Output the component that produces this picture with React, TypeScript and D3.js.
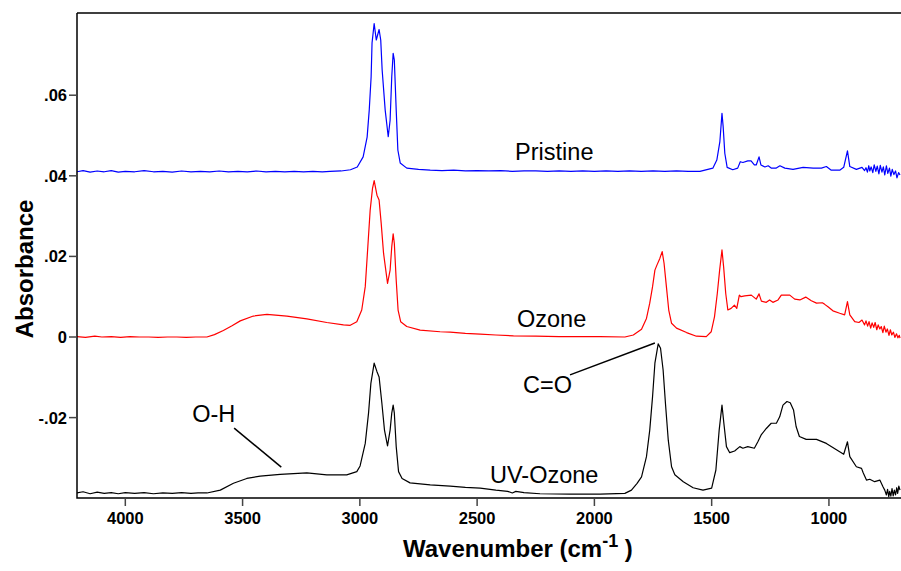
import React from "react";
import * as d3 from "d3";

type Pt = [number, number];

const pristine: Pt[] = [
  [4206,0.0410],[4180,0.0413],[4150,0.0409],[4120,0.0412],[4090,0.0410],[4060,0.0413],[4030,0.0409],[4000,0.0411],[3960,0.0410],[3920,0.0413],[3880,0.0410],[3840,0.0411],[3800,0.0409],[3760,0.0412],[3720,0.0410],[3680,0.0411],[3640,0.0410],[3600,0.0412],[3560,0.0410],[3520,0.0411],[3480,0.0410],[3440,0.0412],[3400,0.0410],[3360,0.0411],[3320,0.0410],[3280,0.0411],[3240,0.0410],[3200,0.0411],[3160,0.0410],[3127,0.0411],[3080,0.0412],[3040,0.0415],[3011,0.0422],[2986,0.0447],[2969,0.0496],[2960,0.0563],[2952,0.0645],[2948,0.0730],[2939,0.0778],[2930,0.0737],[2918,0.0763],[2911,0.0737],[2905,0.0663],[2892,0.0563],[2879,0.0497],[2871,0.0538],[2864,0.0646],[2858,0.0704],[2853,0.0687],[2845,0.0563],[2838,0.0464],[2828,0.0432],[2800,0.0419],[2750,0.0416],[2700,0.0414],[2650,0.0413],[2600,0.0414],[2550,0.0412],[2500,0.0413],[2450,0.0412],[2400,0.0413],[2350,0.0411],[2300,0.0412],[2250,0.0412],[2200,0.0411],[2150,0.0412],[2100,0.0411],[2050,0.0412],[2000,0.0411],[1950,0.0412],[1900,0.0411],[1850,0.0412],[1800,0.0411],[1750,0.0412],[1700,0.0411],[1650,0.0412],[1600,0.0411],[1550,0.0411],[1495,0.0419],[1478,0.0439],[1465,0.0485],[1456,0.0555],[1451,0.0522],[1444,0.0456],[1434,0.0421],[1410,0.0415],[1389,0.0419],[1378,0.0435],[1367,0.0433],[1346,0.0437],[1332,0.0437],[1318,0.0427],[1310,0.0427],[1298,0.0447],[1290,0.0427],[1273,0.0422],[1259,0.0425],[1245,0.0419],[1226,0.0419],[1209,0.0425],[1188,0.0419],[1153,0.0416],[1110,0.0421],[1067,0.0419],[1032,0.0419],[1011,0.0423],[990,0.0414],[954,0.0414],[937,0.0421],[921,0.0462],[911,0.0423],[883,0.0416],[859,0.0421],
  [848,0.0413],[842,0.0420],[836,0.0409],[830,0.0425],[826,0.0412],[820,0.0422],[813,0.0408],[807,0.0427],[800,0.0411],[794,0.0424],[787,0.0405],[781,0.0426],[774,0.0409],[768,0.0422],[762,0.0402],[755,0.0425],[749,0.0406],[742,0.0419],[736,0.0399],[730,0.0416],[723,0.0403],[716,0.0412],[710,0.0395],[703,0.0408],[697,0.0402]
];

const ozone: Pt[] = [
  [4206,0.0001],[4170,-0.0001],[4130,0.0002],[4100,0.0000],[4060,0.0001],[4020,-0.0001],[3980,0.0001],[3940,0.0000],[3900,0.0000],[3860,-0.0001],[3820,0.0000],[3780,0.0000],[3740,-0.0001],[3700,0.0000],[3652,0.0000],[3620,0.0006],[3582,0.0016],[3545,0.0028],[3510,0.0040],[3454,0.0052],[3396,0.0056],[3311,0.0052],[3226,0.0045],[3141,0.0036],[3070,0.0030],[3041,0.0029],[3013,0.0038],[2992,0.0067],[2977,0.0125],[2966,0.0224],[2956,0.0315],[2946,0.0369],[2939,0.0388],[2927,0.0352],[2918,0.0340],[2909,0.0282],[2899,0.0208],[2882,0.0133],[2871,0.0166],[2864,0.0224],[2858,0.0256],[2853,0.0232],[2845,0.0141],[2837,0.0067],[2826,0.0038],[2800,0.0026],[2743,0.0017],[2658,0.0013],[2615,0.0012],[2550,0.0009],[2487,0.0007],[2420,0.0005],[2345,0.0003],[2250,0.0002],[2150,0.0001],[2050,0.0001],[1976,0.0001],[1870,0.0000],[1834,0.0005],[1799,0.0019],[1778,0.0046],[1764,0.0084],[1752,0.0125],[1742,0.0166],[1733,0.0179],[1721,0.0195],[1711,0.0212],[1703,0.0183],[1693,0.0125],[1683,0.0067],[1671,0.0034],[1650,0.0022],[1607,0.0011],[1565,0.0002],[1523,0.0001],[1502,0.0013],[1488,0.0050],[1476,0.0108],[1466,0.0166],[1456,0.0216],[1449,0.0174],[1440,0.0108],[1431,0.0067],[1417,0.0071],[1403,0.0079],[1393,0.0071],[1382,0.0104],[1375,0.0100],[1359,0.0102],[1331,0.0104],[1310,0.0094],[1298,0.0107],[1288,0.0089],[1267,0.0086],[1253,0.0092],[1239,0.0086],[1217,0.0092],[1203,0.0104],[1167,0.0104],[1146,0.0094],[1124,0.0092],[1099,0.0099],[1075,0.0090],[1053,0.0084],[1028,0.0085],[1018,0.0081],[1004,0.0075],[983,0.0065],[954,0.0059],[933,0.0055],[921,0.0088],[911,0.0055],[890,0.0038],[872,0.0036],[859,0.0042],
  [848,0.0030],[842,0.0040],[835,0.0027],[829,0.0038],[822,0.0022],[816,0.0035],[809,0.0024],[803,0.0036],[796,0.0018],[790,0.0030],[783,0.0020],[777,0.0026],[770,0.0011],[764,0.0027],[757,0.0012],[751,0.0020],[744,0.0004],[738,0.0018],[732,0.0005],[725,0.0012],[719,-0.0001],[712,0.0008],[706,-0.0002],[700,0.0004],[697,-0.0003]
];

const uvOzone: Pt[] = [
  [4206,-0.0387],[4180,-0.0384],[4150,-0.0389],[4120,-0.0385],[4090,-0.0388],[4060,-0.0386],[4030,-0.0389],[4000,-0.0386],[3960,-0.0388],[3920,-0.0386],[3880,-0.0389],[3840,-0.0387],[3800,-0.0388],[3760,-0.0386],[3720,-0.0388],[3690,-0.0387],[3652,-0.0387],[3595,-0.0380],[3539,-0.0363],[3482,-0.0351],[3425,-0.0345],[3340,-0.0341],[3226,-0.0337],[3141,-0.0342],[3056,-0.0342],[3013,-0.0334],[2999,-0.0320],[2977,-0.0264],[2963,-0.0189],[2953,-0.0115],[2939,-0.0065],[2927,-0.0086],[2918,-0.0099],[2906,-0.0165],[2895,-0.0231],[2882,-0.0270],[2871,-0.0231],[2864,-0.0189],[2858,-0.0169],[2853,-0.0189],[2845,-0.0272],[2835,-0.0334],[2820,-0.0351],[2786,-0.0362],[2700,-0.0367],[2615,-0.0370],[2550,-0.0373],[2487,-0.0375],[2420,-0.0380],[2370,-0.0383],[2350,-0.0387],[2335,-0.0383],[2300,-0.0386],[2232,-0.0389],[2104,-0.0390],[1976,-0.0390],[1870,-0.0388],[1842,-0.0380],[1818,-0.0363],[1799,-0.0347],[1778,-0.0297],[1764,-0.0231],[1752,-0.0148],[1742,-0.0065],[1728,-0.0017],[1718,-0.0028],[1707,-0.0082],[1697,-0.0165],[1685,-0.0256],[1671,-0.0322],[1657,-0.0342],[1621,-0.0359],[1579,-0.0374],[1537,-0.0380],[1500,-0.0375],[1482,-0.0330],[1468,-0.0231],[1456,-0.0169],[1448,-0.0214],[1437,-0.0272],[1423,-0.0287],[1402,-0.0283],[1380,-0.0272],[1367,-0.0276],[1346,-0.0272],[1318,-0.0276],[1303,-0.0260],[1289,-0.0243],[1267,-0.0227],[1246,-0.0214],[1224,-0.0214],[1210,-0.0198],[1196,-0.0169],[1179,-0.0160],[1165,-0.0163],[1151,-0.0181],[1140,-0.0222],[1126,-0.0247],[1097,-0.0254],[1053,-0.0254],[1011,-0.0264],[968,-0.0280],[937,-0.0291],[921,-0.0260],[911,-0.0297],[883,-0.0322],[861,-0.0326],[854,-0.0337],[840,-0.0355],[826,-0.0353],[805,-0.0359],[783,-0.0355],
  [769,-0.0372],[762,-0.0380],[755,-0.0392],[750,-0.0378],[745,-0.0396],[741,-0.0383],[736,-0.0395],[731,-0.0376],[726,-0.0394],[721,-0.0380],[716,-0.0392],[711,-0.0374],[707,-0.0388],[702,-0.0370],[697,-0.0380]
];

const xTicks = [4000, 3500, 3000, 2500, 2000, 1500, 1000];
const yTicks = [0.06, 0.04, 0.02, 0, -0.02];

const seriesLabels = ["Pristine", "Ozone", "UV-Ozone"];
const seriesColors = ["#0000ff", "#ff0000", "#000000"];
// label anchor [wavenumber, absorbance]
const labelPos: Pt[] = [[2338, 0.0439], [2330, 0.0025], [2445, -0.0363]];

const annotations = ["O-H", "C=O"];
const annotationTextPos: Pt[] = [[3715, -0.0211], [2304, -0.0139]];
const annotationLineFrom: Pt[] = [[3536, -0.0226], [2104, -0.0094]];
const annotationLineTo: Pt[] = [[3335, -0.0323], [1742, -0.0015]];

const FONT = "'Liberation Sans', Arial, Helvetica, sans-serif";

export default function App() {
  const W = 901, H = 571;
  const left = 77, right = 900, top = 13, bottom = 498;
  const x = d3.scaleLinear().domain([4206, 697]).range([left, right]);
  const y = d3.scaleLinear().domain([-0.03995, 0.0804]).range([bottom, top]);
  const line = d3.line<Pt>().x(d => x(d[0])).y(d => y(d[1]));
  const data = [pristine, ozone, uvOzone];
  const fmtY = (v: number) =>
    v === 0 ? "0" : d3.format(".2f")(v).replace("\u2212", "-").replace("0.", ".");

  return (
    <svg width={W} height={H} style={{ position: "absolute", left: 0, top: 0, background: "#fff" }} fontFamily={FONT}>
      <rect x={0} y={0} width={W} height={H} fill="#fff" />
      <defs>
        <clipPath id="plotclip">
          <rect x={left} y={top} width={right - left + 1} height={bottom - top} />
        </clipPath>
      </defs>
      <g clipPath="url(#plotclip)">
        {data.map((s, i) => (
          <path key={i} d={line(s) || ""} fill="none" stroke={seriesColors[i]} strokeWidth={1.2} strokeLinejoin="round" />
        ))}
      </g>
      <path d={`M${left},${top}H${right + 2}M${left},${top}V${bottom}H${right + 2}`} fill="none" stroke="#000" strokeWidth={1.5} />
      {yTicks.map(t => (
        <g key={t}>
          <line x1={left - 8} x2={left} y1={y(t)} y2={y(t)} stroke="#444" strokeWidth={1.5} />
          <text x={left - 10} y={y(t)} dy="0.36em" textAnchor="end" fontWeight="bold" fontSize={16.5} fill="#000">{fmtY(t)}</text>
        </g>
      ))}
      {xTicks.map(t => (
        <g key={t}>
          <line x1={x(t)} x2={x(t)} y1={bottom} y2={bottom + 8} stroke="#444" strokeWidth={1.5} />
          <text x={x(t)} y={524} textAnchor="middle" fontWeight="bold" fontSize={16.5} fill="#000">{t}</text>
        </g>
      ))}
      <text transform="translate(33,269) rotate(-90)" textAnchor="middle" fontWeight="bold" fontSize={24} fill="#000">Absorbance</text>
      <text x={403} y={557} fontWeight="bold" fontSize={24} fill="#000">
        Wavenumber (cm
        <tspan fontSize={18} dy={-10}>-1</tspan>
        <tspan dy={10}>{"\u00A0)"}</tspan>
      </text>
      {seriesLabels.map((l, i) => (
        <text key={l} x={x(labelPos[i][0])} y={y(labelPos[i][1])} fontSize={23.5} fill="#000">{l}</text>
      ))}
      {annotations.map((a, i) => (
        <g key={a}>
          <text x={x(annotationTextPos[i][0])} y={y(annotationTextPos[i][1])} fontSize={23.5} fill="#000">{a}</text>
          <line x1={x(annotationLineFrom[i][0])} y1={y(annotationLineFrom[i][1])} x2={x(annotationLineTo[i][0])} y2={y(annotationLineTo[i][1])} stroke="#000" strokeWidth={1.5} />
        </g>
      ))}
    </svg>
  );
}
